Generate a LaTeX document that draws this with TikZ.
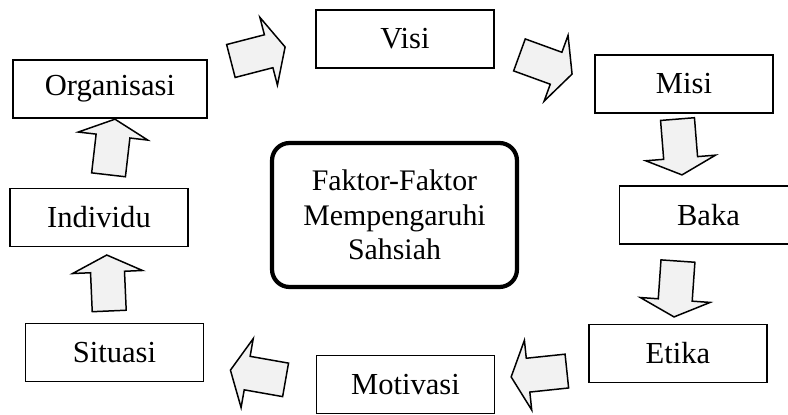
\documentclass[tikz,border=0pt]{standalone}
\usepackage{fontspec}
\setmainfont{Liberation Serif}
\usepackage{tikz}
\definecolor{kelabu}{HTML}{F2F2F2}
\newcommand{\panah}[3]{
\draw[line width=0.85pt,fill=kelabu,shift={(#1,#2)},rotate=#3]
 (-28,-17)--(11,-17)--(11,-35)--(28,0)--(11,35)--(11,17)--(-28,17)--cycle;}

\begin{document}
\begin{tikzpicture}[x=0.02cm,y=-0.02cm,
 kotak/.style={draw,line width=0.85pt,minimum width=3.56cm,minimum height=1.16cm,
  inner sep=0pt,font=\fontsize{17.4}{21}\selectfont},
 pusat/.style={draw,line width=2.4pt,rounded corners=0.35cm,minimum width=4.9cm,
  minimum height=2.88cm,align=center,font=\fontsize{17}{19.6}\selectfont}]
\clip (0,0) rectangle (788,415);

\node[kotak] (visi) at (405,39) {Visi};
\node[kotak] (misi) at (684,84) {Misi};
\node[kotak] (baka) at (708.5,215) {Baka};
\node[kotak] (etika) at (678,353.5) {Etika};
\node[kotak] (motivasi) at (405.5,384.5) {Motivasi};
\node[kotak] (situasi) at (114.5,352.5) {Situasi};
\node[kotak] (individu) at (99,217.5) {Individu};
\node[kotak,minimum width=3.88cm] (organisasi) at (110,89) {Organisasi};

\node[pusat] (faktor) at (394.5,215) {Faktor-Faktor\\Mempengaruhi\\Sahsiah};

\panah{258}{54}{14.5}
\panah{545.75}{64.5}{-20}
\panah{679.75}{147}{-85.4}
\panah{676}{289}{-94}
\panah{539}{374}{186}
\panah{258}{375}{170}
\panah{108}{283}{92.5}
\panah{111.75}{147}{83.4}

\end{tikzpicture}
\end{document}
